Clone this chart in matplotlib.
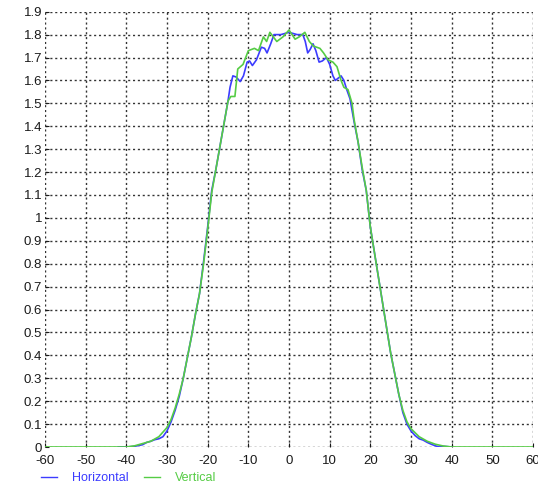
import matplotlib
matplotlib.use("Agg")
import matplotlib.pyplot as plt
from matplotlib.lines import Line2D

plt.rcParams['font.family'] = ['Liberation Sans', 'DejaVu Sans']
plt.rcParams['font.size'] = 9.5
plt.rcParams['axes.unicode_minus'] = False

# Horizontal profile (blue)
h_x = [-42, -40, -38, -36, -35, -34, -33, -32, -31, -30, -29, -28, -27, -26,
       -25, -24, -23, -22, -21, -20, -19, -18, -17, -16, -15, -14.5, -13.8,
       -13, -12, -11.2, -10.3, -9.7, -9.0, -8, -6.8, -6.0, -5.4, -4.5, -3.7,
       -2, 0, 2, 3.4, 4.0, 4.6, 5.2, 5.9, 6.6, 7.4, 8.2, 9.2, 10, 10.8,
       11.4, 12.1, 12.8, 13.5, 14.2, 15, 16, 17, 18, 19, 20, 21, 22, 23, 24,
       25, 26, 27, 28, 29, 30, 31, 32, 33, 34, 35, 36, 37, 38, 40]
h_y = [0.0, 0.0, 0.003, 0.01, 0.02, 0.025, 0.032, 0.036, 0.045, 0.07, 0.11,
       0.16, 0.22, 0.30, 0.39, 0.48, 0.58, 0.67, 0.81, 0.96, 1.12, 1.21,
       1.31, 1.41, 1.51, 1.57, 1.62, 1.615, 1.595, 1.62, 1.68, 1.685, 1.665,
       1.69, 1.745, 1.74, 1.72, 1.76, 1.80, 1.80, 1.81, 1.80, 1.80, 1.77,
       1.72, 1.735, 1.76, 1.73, 1.68, 1.685, 1.70, 1.67, 1.62, 1.60, 1.61,
       1.62, 1.60, 1.56, 1.52, 1.42, 1.33, 1.21, 1.12, 0.96, 0.85, 0.74,
       0.63, 0.52, 0.41, 0.32, 0.23, 0.15, 0.10, 0.07, 0.05, 0.036, 0.03,
       0.02, 0.012, 0.005, 0.0, 0.003, 0.0]

# Vertical profile (green)
v_x = [-60, -40, -38, -36, -34, -32, -30, -29, -28, -27, -26, -25, -24, -23,
       -22, -21, -20, -19, -18, -17, -16, -15, -14.3, -13.3, -12.6, -11.3,
       -10, -8.5, -7.5, -6.3, -5.5, -4.7, -3, -1.5, 0, 1.5, 2.5, 3.9, 5, 6,
       7.6, 8.5, 9.6, 10.8, 11.8, 12.8, 13.5, 14.5, 15.5, 16, 17, 18, 19,
       20, 21, 22, 23, 24, 25, 26, 27, 28, 29, 30, 32, 34, 36, 38, 40, 60]
v_y = [0.0, 0.0, 0.005, 0.015, 0.025, 0.045, 0.085, 0.12, 0.17, 0.23, 0.30,
       0.39, 0.48, 0.58, 0.67, 0.80, 0.95, 1.11, 1.21, 1.31, 1.41, 1.51,
       1.53, 1.53, 1.65, 1.67, 1.73, 1.74, 1.73, 1.79, 1.77, 1.81, 1.77,
       1.79, 1.82, 1.78, 1.79, 1.81, 1.77, 1.75, 1.74, 1.72, 1.69, 1.68,
       1.66, 1.60, 1.57, 1.56, 1.50, 1.43, 1.33, 1.22, 1.12, 0.96, 0.85,
       0.74, 0.63, 0.52, 0.41, 0.32, 0.23, 0.16, 0.11, 0.08, 0.045, 0.025,
       0.012, 0.004, 0.0, 0.0]

x_ticks = list(range(-60, 61, 10))
y_ticks = [round(0.1 * i, 1) for i in range(20)]
y_labels = ['%g' % v for v in y_ticks]

blue = '#3c3cff'
green = '#55cc44'

fig = plt.figure(figsize=(5.38, 4.87), dpi=100)
ax = fig.add_axes([45 / 538, 40 / 487, 488 / 538, 435.3 / 487])

ax.plot(h_x, h_y, color=blue, lw=1.2)
ax.plot(v_x, v_y, color=green, lw=1.2)

ax.set_xlim(-60, 60)
ax.set_ylim(0, 1.9)
ax.set_xticks(x_ticks)
ax.set_yticks(y_ticks)
ax.set_yticklabels(y_labels)
ax.grid(True, color='#333333', linestyle=(0, (1.5, 2.0)), linewidth=1.0)
for s in ax.spines.values():
    s.set_visible(False)
ax.tick_params(axis='both', colors='#1a1a1a', labelsize=9.5, length=3,
               direction='in', width=0.8)
ax.tick_params(axis='x', pad=6)
ax.tick_params(axis='y', pad=2)

handles = [Line2D([], [], color=blue, lw=1.0), Line2D([], [], color=green, lw=1.0)]
leg = fig.legend(handles, ['Horizontal', 'Vertical'], loc='lower left',
                 bbox_to_anchor=(36 / 538, -2 / 487), ncol=2, frameon=False,
                 handlelength=1.3, handletextpad=1.2, columnspacing=1.2,
                 fontsize=9, borderaxespad=0)
for t, c in zip(leg.get_texts(), [blue, green]):
    t.set_color(c)

fig.savefig('out.png', dpi=100)
